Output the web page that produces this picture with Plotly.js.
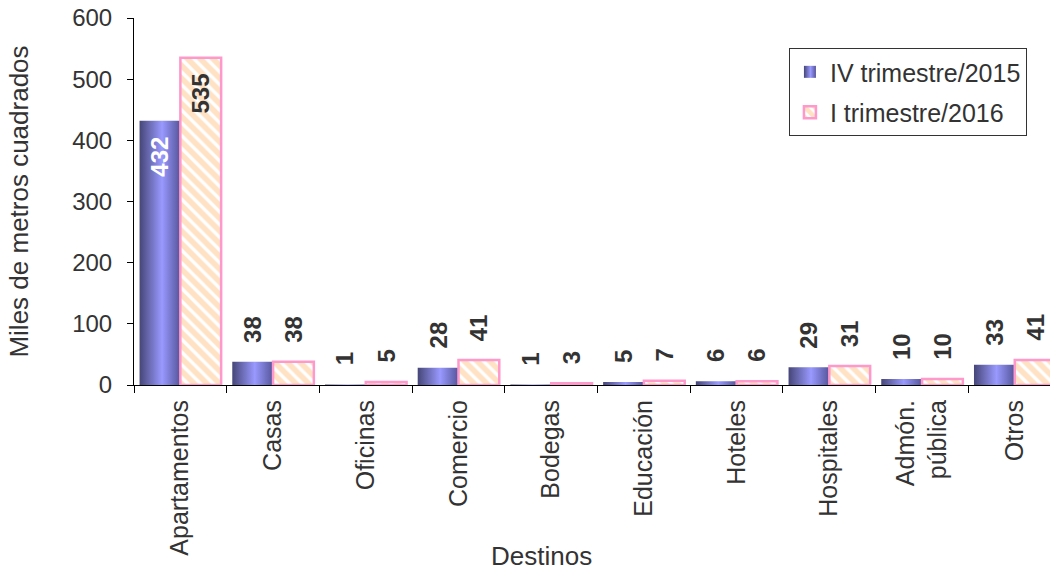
<!DOCTYPE html>
<html>
<head>
<meta charset="utf-8">
<script src="https://cdn.plot.ly/plotly-3.0.1.min.js"></script>
<style>html,body{margin:0;padding:0;background:#fff;}#chart{width:1050px;height:571px;}</style>
</head>
<body>
<div id="chart"></div>
<script>
const categorias = ['Apartamentos','Casas','Oficinas','Comercio','Bodegas','Educación','Hoteles','Hospitales','Admón.<br>pública','Otros'];
const serie2015 = [432,38,1,28,1,5,6,29,10,33];
const serie2016 = [535,38,5,41,3,7,6,31,10,41];
const nombres = ['IV trimestre/2015','I trimestre/2016'];
const tituloY = 'Miles de metros cuadrados';
const tituloX = 'Destinos';

const FONT = 'Liberation Sans, Arial, sans-serif';
const TXT = '#333333';
const bargap = 0.12;
const half = (1 - bargap) / 4;

const idx = categorias.map((c, i) => i);

const t1 = {
  type: 'bar', name: nombres[0], x: idx, y: serie2015,
  marker: {color: '#8080E0', line: {width: 0}},
  legendgroup: 'a'
};
const t2 = {
  type: 'bar', name: nombres[1], x: idx, y: serie2016,
  marker: {color: 'white', line: {color: '#FF99CC', width: 2.5},
    pattern: {shape: '\\', fgcolor: '#FFC48A', bgcolor: 'white', size: 9, solidity: 0.62, fillmode: 'overlay'}},
  legendgroup: 'b'
};

const annotations = [];
[[serie2015, -half, 'white'], [serie2016, half, TXT]].forEach(([vals, off, inColor]) => {
  vals.forEach((v, i) => {
    const inside = v > 300;
    annotations.push({
      x: i + off, y: v, xref: 'x', yref: 'y', text: '<b>' + v + '</b>',
      showarrow: false, textangle: -90,
      xanchor: 'center', yanchor: inside ? 'top' : 'bottom',
      yshift: inside ? -14 : 17,
      font: {family: FONT, size: 24, color: inside ? inColor : TXT}
    });
  });
});
annotations.push({
  text: tituloX, xref: 'paper', yref: 'paper', x: 0.445, y: -0.465,
  showarrow: false, xanchor: 'center', yanchor: 'middle',
  font: {family: FONT, size: 26, color: TXT}
});

const layout = {
  width: 1050, height: 571,
  margin: {l: 134, r: 0, t: 18, b: 186},
  paper_bgcolor: 'white', plot_bgcolor: 'white',
  font: {family: FONT, color: TXT},
  barmode: 'group', bargap: bargap, bargroupgap: 0,
  showlegend: true,
  legend: {
    x: 0.715, y: 0.918, xanchor: 'left', yanchor: 'top',
    bgcolor: 'white', bordercolor: '#333', borderwidth: 1,
    font: {family: FONT, size: 25, color: TXT},
    traceorder: 'grouped', tracegroupgap: 5
  },
  xaxis: {
    type: 'linear', range: [-0.5, 9.38],
    tickmode: 'array', tickvals: idx, ticktext: categorias,
    tickangle: -90, ticks: '', showline: true, linecolor: '#000', linewidth: 1,
    showgrid: false, zeroline: false, ticklabelstandoff: 4,
    tickfont: {family: FONT, size: 25, color: TXT}
  },
  xaxis2: {
    overlaying: 'x', matches: 'x', type: 'linear', range: [-0.5, 9.38],
    tickmode: 'array', tickvals: idx.map(i => i + 0.5).concat([-0.5]), ticktext: idx.map(() => '').concat(['']),
    ticks: 'outside', ticklen: 7, tickcolor: '#000', showgrid: false, zeroline: false,
    showline: false, anchor: 'y', side: 'bottom'
  },
  yaxis: {
    range: [0, 600], tickvals: [0,100,200,300,400,500,600],
    ticks: 'outside', ticklen: 6, tickcolor: '#000', ticklabelstandoff: 10,
    showline: true, linecolor: '#000', linewidth: 1, showgrid: false, zeroline: false,
    tickfont: {family: FONT, size: 24, color: TXT},
    title: {text: tituloY, font: {family: FONT, size: 26, color: TXT}, standoff: 36}
  },
  annotations: annotations
};

const dummy = {type: 'scatter', x: [0], y: [0], xaxis: 'x2', mode: 'markers', marker: {opacity: 0}, showlegend: false, hoverinfo: 'skip'};

Plotly.newPlot('chart', [t1, t2, dummy], layout, {staticPlot: true}).then(gd => {
  const svg = gd.querySelector('.main-svg');
  const ns = 'http://www.w3.org/2000/svg';
  let defs = svg.querySelector('defs');
  if (!defs) { defs = document.createElementNS(ns, 'defs'); svg.insertBefore(defs, svg.firstChild); }
  const g = document.createElementNS(ns, 'linearGradient');
  g.setAttribute('id', 'blueGrad');
  g.setAttribute('x1', '0'); g.setAttribute('x2', '1'); g.setAttribute('y1', '0'); g.setAttribute('y2', '0');
  [[0, '#464678'], [0.55, '#9999FF'], [1, '#55559A']].forEach(([o, c]) => {
    const s = document.createElementNS(ns, 'stop');
    s.setAttribute('offset', o); s.setAttribute('stop-color', c);
    g.appendChild(s);
  });
  defs.appendChild(g);
  const traces = gd.querySelectorAll('.barlayer .trace');
  if (traces[0]) traces[0].querySelectorAll('path').forEach(p => { p.style.fill = 'url(#blueGrad)'; });
  const lt = gd.querySelectorAll('.legend .traces');
  if (lt[0]) lt[0].querySelectorAll('.legendpoints path').forEach(p => { p.style.fill = 'url(#blueGrad)'; });
});
</script>
</body>
</html>
